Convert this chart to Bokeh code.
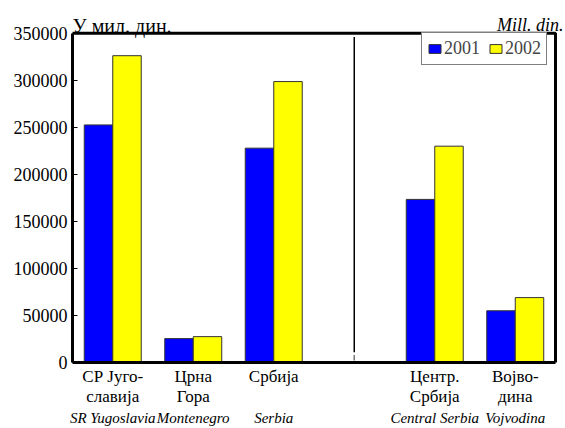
from bokeh.plotting import figure
from bokeh.models import Range1d, Label, FixedTicker, LinearAxis
from bokeh.embed import file_html
from bokeh.resources import INLINE

# --- data ---
keys = ["SRJ", "CG", "SRB", "GAP", "CS", "VOJ"]
labels_sr = ["СР Југо-\nславија", "Црна\nГора", "Србија", "", "Центр.\nСрбија", "Војво-\nдина"]
labels_en = ["SR Yugoslavia", "Montenegro", "Serbia", "", "Central Serbia", "Vojvodina"]
bar_keys = ["SRJ", "CG", "SRB", "CS", "VOJ"]
v2001 = [252600, 25400, 227900, 173400, 55000]
v2002 = [326200, 27500, 298700, 230000, 69000]
y_ticks = [0, 50000, 100000, 150000, 200000, 250000, 300000, 350000]
divider_key = "GAP"
unit_sr = "У мил. дин."
unit_en = "Mill. din."

FONT = "Liberation Serif"
slot = {k: i for i, k in enumerate(keys)}
bw = 0.354
x_lo, x_hi = -0.5, len(keys) - 0.5
y_lo, y_hi = 0, 350000

# layout (pixels)
W, H = 565, 428
BL, BB = 72, 64          # left / bottom borders
BOX_TOP = 33             # top edge of the plot box
BOX_RIGHT_GAP = 10       # space right of the plot box
box_w = W - BL - BOX_RIGHT_GAP
box_h = H - BB - BOX_TOP
x_end = x_hi + BOX_RIGHT_GAP * (x_hi - x_lo) / box_w
y_end = y_hi + BOX_TOP * (y_hi - y_lo) / box_h

p = figure(width=W, height=H, x_range=Range1d(x_lo, x_end),
           y_range=Range1d(y_lo, y_end), output_backend="svg", toolbar_location=None,
           min_border_left=BL, min_border_right=0, min_border_top=0, min_border_bottom=BB,
           x_axis_location=None)
p.background_fill_color = "white"
p.border_fill_color = "white"
p.grid.visible = False
p.outline_line_color = None

xs = [slot[k] for k in bar_keys]
p.vbar(x=[x - bw / 2 for x in xs], top=v2001, width=bw,
       fill_color="#0000FF", line_color="#333333", line_width=1, legend_label="2001")
p.vbar(x=[x + bw / 2 for x in xs], top=v2002, width=bw,
       fill_color="#FFFF00", line_color="#333333", line_width=1, legend_label="2002")

# plot box
p.quad(left=[x_lo], right=[x_hi], bottom=[y_lo], top=[y_hi], fill_color=None,
       line_color="black", line_width=3)

dx = slot[divider_key]
p.segment(x0=[dx], y0=[11000], x1=[dx], y1=[346000], line_color="black", line_width=1.5)
p.segment(x0=[dx], y0=[2000], x1=[dx], y1=[8000], line_color="#777777", line_width=1.5)

# y axis
ya = p.yaxis[0]
ya.ticker = FixedTicker(ticks=y_ticks)
ya.bounds = (y_lo, y_hi)
ya.axis_line_width = 3
ya.major_tick_in = 5
ya.major_tick_out = 0
ya.minor_tick_line_color = None
ya.major_label_text_font = FONT
ya.major_label_text_font_size = "18px"
ya.major_label_text_color = "black"
ya.major_label_standoff = 5
ya.formatter.use_scientific = False

# category axes below the frame
label_ticks = list(range(len(keys)))


def cat_axis(texts, size, italic, standoff, lh):
    ax = LinearAxis(ticker=FixedTicker(ticks=label_ticks),
                    major_label_overrides={i: t for i, t in enumerate(texts)})
    ax.bounds = (x_lo, x_hi)
    ax.axis_line_color = None
    ax.major_tick_line_color = None
    ax.minor_tick_line_color = None
    ax.major_tick_in = 0
    ax.major_tick_out = 0
    ax.minor_tick_in = 0
    ax.minor_tick_out = 0
    ax.major_label_text_font = FONT
    ax.major_label_text_font_size = size
    if italic:
        ax.major_label_text_font_style = "italic"
    ax.major_label_text_color = "black"
    ax.major_label_standoff = standoff
    ax.major_label_text_line_height = lh
    return ax


ax1 = cat_axis(labels_sr, "17px", False, 4, 1.1)
ax1.axis_line_color = "black"
ax1.axis_line_width = 3
p.add_layout(ax1, "below")
p.add_layout(cat_axis(labels_en, "15px", True, 0, 0.75), "below")

# corner titles
p.add_layout(Label(x=x_lo, y=y_hi, text=unit_sr, text_font=FONT, text_font_size="20px",
                   text_baseline="alphabetic", y_offset=7, text_color="black"))
p.add_layout(Label(x=x_hi, y=y_hi, text=unit_en, text_font=FONT, text_font_style="italic",
                   text_font_size="18px", text_align="right", text_baseline="alphabetic",
                   x_offset=8, y_offset=8, text_color="black"))

lg = p.legend[0]
lg.orientation = "horizontal"
lg.location = (349, 297)
lg.margin = 0
lg.padding = 5
lg.spacing = 8
lg.label_standoff = 2
lg.glyph_width = 15
lg.glyph_height = 11
lg.label_text_font = FONT
lg.label_text_font_size = "18px"
lg.label_height = 17
lg.label_text_baseline = "middle"
lg.border_line_color = "black"
lg.border_line_width = 1
lg.background_fill_alpha = 1

open("out.html", "w").write(file_html(p, INLINE))
